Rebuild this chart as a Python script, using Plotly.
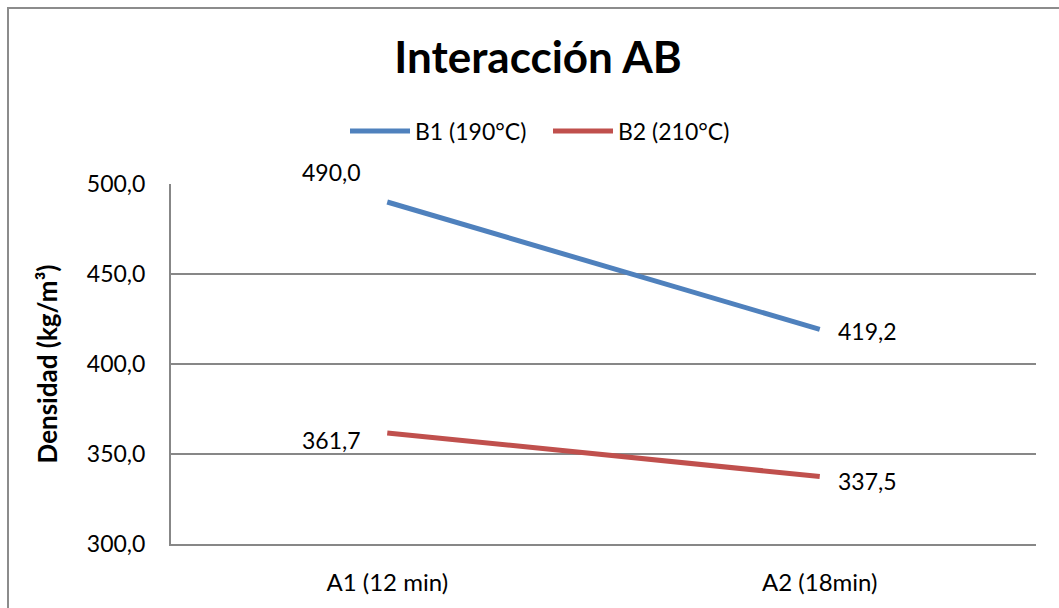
import plotly.graph_objects as go

# Categories (factor A) and mean density for each level of factor B
categorias = ["A1 (12 min)", "A2 (18min)"]
serie_b1 = [490.0, 419.2]
serie_b2 = [361.7, 337.5]
nombres = ["B1 (190°C)", "B2 (210°C)"]
ticks_y = [300, 350, 400, 450, 500]

azul = "#4F81BD"
rojo = "#C0504D"
gris = "#878787"
fuente = "Lato"

fig = go.Figure()
fig.add_trace(go.Scatter(x=categorias, y=serie_b1, mode="lines", name=nombres[0],
                         line=dict(color=azul, width=5)))
fig.add_trace(go.Scatter(x=categorias, y=serie_b2, mode="lines", name=nombres[1],
                         line=dict(color=rojo, width=5)))

# Value labels next to each end point (offsets in px)
offsets_b1 = [(-56, -30), (48, 2)]
offsets_b2 = [(-56, 7), (48, 4)]
anotaciones = []
for serie, offs in ((serie_b1, offsets_b1), (serie_b2, offsets_b2)):
    for cat, val, (dx, dy) in zip(categorias, serie, offs):
        anotaciones.append(dict(
            x=cat, y=val, xref="x", yref="y",
            text=f"{val:.1f}".replace(".", ","),
            showarrow=False, xshift=dx, yshift=-dy,
            font=dict(family=fuente, size=23, color="#000000"),
        ))

fig.update_layout(
    width=1059, height=608,
    margin=dict(l=171, r=23, t=184, b=64),
    paper_bgcolor="white", plot_bgcolor="white",
    separators=", ",
    font=dict(family=fuente, size=23, color="#000000"),
    title=dict(text="<b>Interacción AB</b>", x=538 / 1059, xanchor="center",
               y=1 - 58 / 608, yanchor="middle",
               font=dict(family=fuente, size=44, color="#000000")),
    legend=dict(orientation="h", x=(548 - 171) / 865, xanchor="center",
                y=(544 - 131) / 360, yanchor="middle",
                font=dict(family=fuente, size=23), bgcolor="rgba(0,0,0,0)",
                itemwidth=60, entrywidth=128, entrywidthmode="pixels"),
    showlegend=True,
    annotations=anotaciones,
    xaxis=dict(range=[-0.5, 1.5], showgrid=False, showline=True,
               linecolor=gris, linewidth=2, ticks="", zeroline=False,
               ticklabelstandoff=16,
               tickfont=dict(family=fuente, size=24)),
    yaxis=dict(range=[300, 500], tickvals=ticks_y, tickformat=".1f",
               showgrid=True, gridcolor=gris, gridwidth=1.5,
               showline=True, linecolor=gris, linewidth=2, ticks="",
               zeroline=False, ticklabelstandoff=19,
               tickfont=dict(family=fuente, size=23),
               title=dict(text="<b>Densidad (kg/m³)</b>", standoff=22,
                          font=dict(family=fuente, size=26))),
    shapes=[dict(type="rect", xref="paper", yref="paper",
                 x0=(8 - 171) / 865, x1=(1070 - 171) / 865,
                 y0=(544 - 620) / 360, y1=(544 - 8) / 360,
                 line=dict(color="#8C8C8C", width=2), layer="below")],
)

fig.write_html("out.html")
